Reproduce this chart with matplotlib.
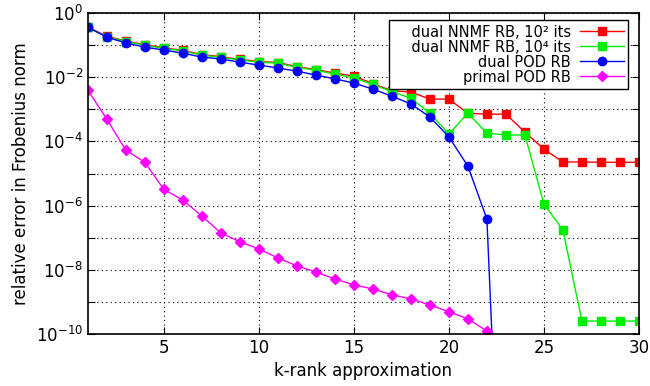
import numpy as np
import matplotlib
matplotlib.use("Agg")
import matplotlib.pyplot as plt

# k-rank values
k = list(range(1, 31))

# log10 of relative errors
nnmf_1e2_log = [-0.43, -0.72, -0.87, -0.98, -1.08, -1.16, -1.29, -1.36, -1.44, -1.51,
                -1.54, -1.67, -1.76, -1.87, -1.96, -2.20, -2.42, -2.46, -2.68, -2.68,
                -3.12, -3.15, -3.15, -3.71, -4.24, -4.64, -4.64, -4.65, -4.65, -4.65]
nnmf_1e4_log = [-0.44, -0.74, -0.89, -1.00, -1.10, -1.18, -1.31, -1.38, -1.46, -1.53,
                -1.56, -1.69, -1.78, -1.90, -2.02, -2.22, -2.45, -2.65, -3.12, -3.77,
                -3.12, -3.74, -3.80, -3.80, -5.95, -6.76, -9.60, -9.60, -9.60, -9.60]
pod_dual_log = [-0.44, -0.75, -0.93, -1.06, -1.15, -1.25, -1.37, -1.43, -1.53, -1.62,
                -1.71, -1.81, -1.93, -2.05, -2.18, -2.37, -2.59, -2.83, -3.24, -3.86,
                -4.77, -6.42, -20.0, -21.0, -21.5, -22.0, -22.0, -22.0, -22.0, -22.0]
pod_primal_log = [-2.40, -3.30, -4.27, -4.65, -5.49, -5.83, -6.32, -6.85, -7.13, -7.35,
                  -7.63, -7.88, -8.07, -8.29, -8.47, -8.60, -8.78, -8.91, -9.10, -9.31,
                  -9.53, -9.91, -10.4, -10.7, -11.0, -11.2, -11.4, -11.6, -11.8, -12.0]
labels = ["dual NNMF RB, 10\u00b2 its", "dual NNMF RB, 10\u2074 its",
          "dual POD RB", "primal POD RB"]

nnmf_1e2 = 10.0 ** np.array(nnmf_1e2_log)
nnmf_1e4 = 10.0 ** np.array(nnmf_1e4_log)
pod_dual = 10.0 ** np.array(pod_dual_log)
pod_primal = 10.0 ** np.array(pod_primal_log)

fig = plt.figure(figsize=(6.5, 3.86), dpi=100)
ax = fig.add_axes([0.135, 0.135, 0.848, 0.831])

ax.plot(k, nnmf_1e2, color="#ff0000", marker="s", ms=6, lw=1, label="    " + labels[0])
ax.plot(k, nnmf_1e4, color="#00ee00", marker="s", ms=6, lw=1, label="    " + labels[1])
ax.plot(k, pod_dual, color="#0000ff", marker="o", ms=6, lw=1, label=labels[2])
ax.plot(k, pod_primal, color="#ff00ff", marker="D", ms=5, lw=1, label=labels[3])

ax.set_yscale("log")
ax.set_xlim(1, 30)
ax.set_ylim(1e-10, 1)
ax.set_xticks([5, 10, 15, 20, 25, 30])
yt = [10.0 ** e for e in range(-10, 1)]
ax.set_yticks(yt)
ax.set_yticklabels([r"$10^{%d}$" % e if e % 2 == 0 else "" for e in range(-10, 1)])
ax.yaxis.set_minor_locator(matplotlib.ticker.NullLocator())

ax.grid(True, color="black", linestyle=(0, (1, 3)), lw=0.8)
ax.tick_params(direction="in", top=True, right=True, labelsize=12, length=5)
for s in ax.spines.values():
    s.set_linewidth(1.2)

ax.set_xlabel("k-rank approximation", fontsize=12)
ax.set_ylabel("relative error in Frobenius norm", fontsize=12)

leg = ax.legend(loc="upper right", markerfirst=False, fontsize=10.5, fancybox=False,
                framealpha=1, edgecolor="black", borderpad=0.3, labelspacing=0.0,
                handlelength=3.0, handletextpad=0.6, borderaxespad=0,
                bbox_to_anchor=(0.98, 0.978))
leg.get_frame().set_linewidth(1)
for t in leg.get_texts():
    t.set_ha("right")

fig.savefig("out.png", dpi=100)
